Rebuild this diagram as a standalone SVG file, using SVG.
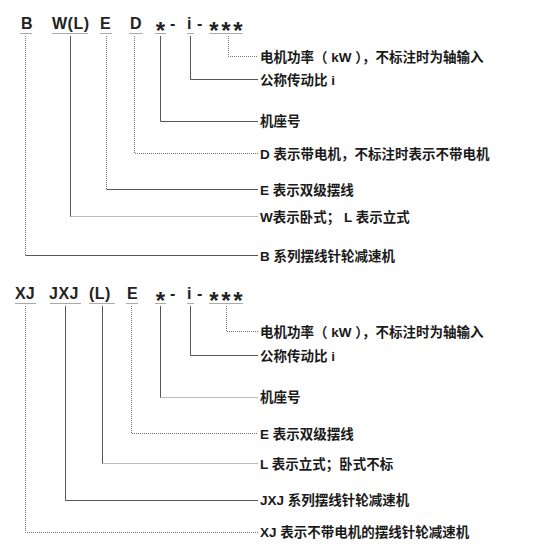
<svg xmlns="http://www.w3.org/2000/svg" width="552" height="551" viewBox="0 0 552 551">
<style>
.hd{font-family:"Liberation Sans","Noto Sans CJK SC",sans-serif;font-weight:bold;font-size:16px;fill:#222}
.st{font-family:"Liberation Sans",sans-serif;font-weight:bold;font-size:24px;fill:#222;text-anchor:middle}
.lb{font-family:"Liberation Sans","Noto Sans CJK SC",sans-serif;font-weight:bold;font-size:13.5px;fill:#1a1a1a}
.ul{stroke:#aaa;stroke-width:1;fill:none}
.so{stroke:#555;stroke-width:1;fill:none}
.dt{stroke:#777;stroke-width:1;stroke-dasharray:1 1;fill:none}
</style>
<rect width="552" height="551" fill="#fff"/>
<g id="header-top">
<text class="hd" x="21" y="28.5">B</text>
<text class="hd" x="52" y="28.5" letter-spacing="0.5">W(L)</text>
<text class="hd" x="100" y="28.5">E</text>
<text class="hd" x="130" y="28.5">D</text>
<text class="st" x="160.5" y="38.5">*</text>
<text class="hd" x="170" y="28.5">-</text>
<text class="hd" x="187" y="28.5">i</text>
<text class="hd" x="197" y="28.5">-</text>
<text class="st" x="214" y="38.5">*</text>
<text class="st" x="226" y="38.5">*</text>
<text class="st" x="238" y="38.5">*</text>
<path class="ul" d="M20 33.5H32M52 33.5H88M100 33.5H112M129 33.5H143M155 33.5H166M187 33.5H194M209 33.5H243"/>
</g>
<g id="header-bottom">
<text class="hd" x="15" y="299">XJ</text>
<text class="hd" x="49" y="299" letter-spacing="0.5">JXJ</text>
<text class="hd" x="89" y="299" letter-spacing="0.5">(L)</text>
<text class="hd" x="127" y="299">E</text>
<text class="st" x="160.5" y="309">*</text>
<text class="hd" x="170" y="299">-</text>
<text class="hd" x="187" y="299">i</text>
<text class="hd" x="197" y="299">-</text>
<text class="st" x="214" y="309">*</text>
<text class="st" x="226" y="309">*</text>
<text class="st" x="238" y="309">*</text>
<path class="ul" d="M15 303.5H36M50 303.5H81M89 303.5H115M126 303.5H138M155 303.5H166M187 303.5H194M209 303.5H243"/>
</g>
<g id="connectors">
<path class="dt" d="M228.5 36V56.5H258"/>
<path class="so" d="M190.5 36V79.5H258"/>
<path class="so" d="M160.5 36V121.5H258"/>
<path class="dt" d="M134.5 36V153.5H258"/>
<path class="dt" d="M106.5 36V189.5"/>
<path class="so" d="M106.5 189.5H258"/>
<path class="so" d="M70.5 36V216.5"/>
<path class="dt" d="M70.5 216.5H258"/>
<path class="dt" d="M25.5 36V255.5"/>
<path class="so" d="M25.5 255.5H258"/>
<path class="dt" d="M226.5 306V331.5H258"/>
<path class="so" d="M190.5 306V355.5H258"/>
<path class="so" d="M160.5 306V397.5"/>
<path class="dt" d="M160.5 397.5H258"/>
<path class="dt" d="M131.5 306V433.5H258"/>
<path class="so" d="M102.5 306V463.5"/>
<path class="dt" d="M102.5 463.5H258"/>
<path class="so" d="M65.5 306V500.5H258"/>
<path class="dt" d="M25.5 306V532.5H258"/>
</g>
<g id="labels-top">
<text class="lb" x="260" y="61.5">电机功率（ kW ），不标注时为轴输入</text>
<text class="lb" x="260" y="84.5">公称传动比 i</text>
<text class="lb" x="260" y="126">机座号</text>
<text class="lb" x="260" y="158.5">D 表示带电机，不标注时表示不带电机</text>
<text class="lb" x="260" y="194.5">E 表示双级摆线</text>
<text class="lb" x="260" y="221.5">W表示卧式； L 表示立式</text>
<text class="lb" x="260" y="260.5">B 系列摆线针轮减速机</text>
</g>
<g id="labels-bottom">
<text class="lb" x="260" y="336.5">电机功率（ kW ），不标注时为轴输入</text>
<text class="lb" x="260" y="360.5">公称传动比 i</text>
<text class="lb" x="260" y="402">机座号</text>
<text class="lb" x="260" y="438.5">E 表示双级摆线</text>
<text class="lb" x="260" y="468.5">L 表示立式；卧式不标</text>
<text class="lb" x="260" y="505">JXJ  系列摆线针轮减速机</text>
<text class="lb" x="260" y="537">XJ 表示不带电机的摆线针轮减速机</text>
</g>
</svg>
